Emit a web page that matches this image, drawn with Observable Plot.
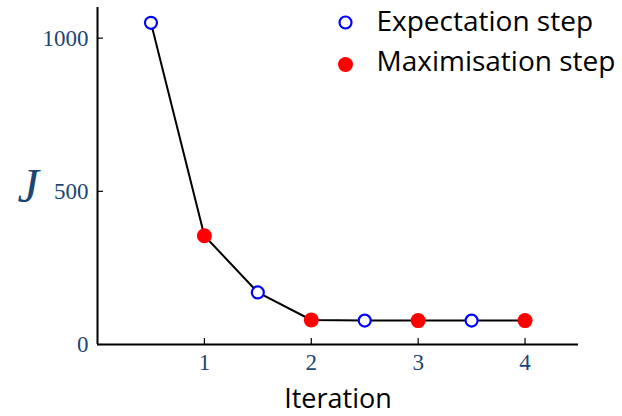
<!DOCTYPE html>
<html>
<head>
<meta charset="utf-8">
<script src="https://cdn.jsdelivr.net/npm/d3@7"></script>
<script src="https://cdn.jsdelivr.net/npm/@observablehq/plot@0.6"></script>
<style>
  html, body { margin: 0; padding: 0; background: #fff; }
  .emplot g[aria-label$="tick label"] text { font-size: 23px !important; font-family: 'Liberation Serif', serif !important; }
</style>
</head>
<body>
<div id="chart"></div>
<script>
// Data
const eIter = [0.5, 1.5, 2.5, 3.5];
const eJ = [1050, 170, 78, 78];
const mIter = [1, 2, 3, 4];
const mJ = [355, 80, 78, 78];
const xTicks = [1, 2, 3, 4];
const yTicks = [0, 500, 1000];
const legendLabels = ["Expectation step", "Maximisation step"];

const eData = eIter.map((x, i) => ({x, y: eJ[i]}));
const mData = mIter.map((x, i) => ({x, y: mJ[i]}));
const allData = [...eData, ...mData].sort((a, b) => a.x - b.x);

const tickColor = "#1c4673";
const serif = "'Liberation Serif', 'DejaVu Serif', serif";
const sans = "'Open Sans', 'Noto Sans', sans-serif";

const chart = Plot.plot({
  className: "emplot",
  width: 622,
  height: 416,
  marginLeft: 97,
  marginRight: 44,
  marginTop: 7,
  marginBottom: 72,
  style: {background: "#fff", overflow: "visible"},
  x: {domain: [0, 4.5]},
  y: {domain: [0, 1100]},
  marks: [
    Plot.axisX({ticks: xTicks, tickSize: -6, tickPadding: 15, stroke: "#000", strokeWidth: 1.2,
      fill: tickColor, fontSize: 23, fontFamily: serif, label: null, tickFormat: d => String(d)}),
    Plot.axisY({ticks: yTicks, tickSize: -6, tickPadding: 15, stroke: "#000", strokeWidth: 1.2,
      fill: tickColor, fontSize: 23, fontFamily: serif, label: null, tickFormat: d => String(d)}),
    Plot.ruleY([0], {stroke: "#000", strokeWidth: 2}),
    Plot.ruleX([0], {stroke: "#000", strokeWidth: 2}),
    Plot.line(allData, {x: "x", y: "y", stroke: "#000", strokeWidth: 2}),
    Plot.dot(eData, {x: "x", y: "y", r: 6, stroke: "#0000ff", strokeWidth: 2.2, fill: "#fff"}),
    Plot.dot(mData, {x: "x", y: "y", r: 7.5, fill: "#ff0000", stroke: "none"}),
    // legend
    Plot.dot([0], {frameAnchor: "top-left", dx: 248, dy: 15, r: 6, stroke: "#0000ff", strokeWidth: 2.2, fill: "#fff"}),
    Plot.dot([0], {frameAnchor: "top-left", dx: 248, dy: 57, r: 7.5, fill: "#ff0000", stroke: "none"}),
    Plot.text([legendLabels[0]], {text: d => d, frameAnchor: "top-left", dx: 279, dy: 15, textAnchor: "start", lineAnchor: "middle", fontSize: 28, fontFamily: sans, fill: "#000"}),
    Plot.text([legendLabels[1]], {text: d => d, frameAnchor: "top-left", dx: 279, dy: 55, textAnchor: "start", lineAnchor: "middle", fontSize: 28, fontFamily: sans, fill: "#000"}),
    // axis titles
    Plot.text(["Iteration"], {text: d => d, frameAnchor: "bottom", dx: 0, dy: 55, lineAnchor: "middle", fontSize: 27, fontFamily: sans, fill: "#000"}),
    Plot.text(["J"], {text: d => d, frameAnchor: "left", dx: -80, dy: 11, lineAnchor: "middle", fontSize: 48, fontStyle: "italic", fontFamily: serif, fill: tickColor})
  ]
});
document.getElementById("chart").appendChild(chart);
</script>
</body>
</html>
